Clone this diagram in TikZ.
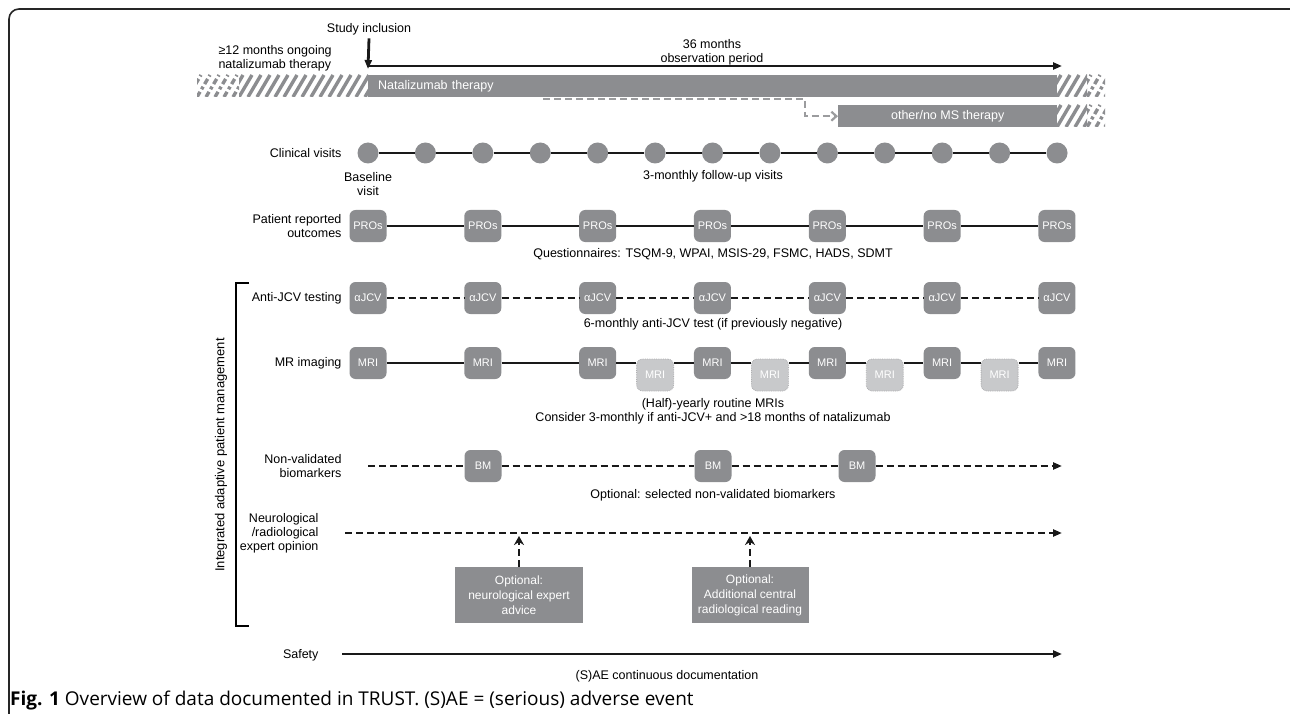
\documentclass[tikz,border=0pt]{standalone}
\usepackage{fontspec}
\setmainfont{Liberation Sans}
\newfontfamily\capfont{Open Sans}
\usetikzlibrary{arrows.meta}
\definecolor{bargray}{RGB}{140,141,144}
\definecolor{optgray}{RGB}{200,201,203}
\definecolor{linkgray}{RGB}{155,156,158}
\tikzset{
  rowlabel/.style={anchor=east, align=right, font=\fontsize{12.5}{15}\selectfont},
  note/.style={align=center, font=\fontsize{12.5}{15}\selectfont},
  visit/.style={circle, fill=bargray, minimum size=21pt, inner sep=0pt},
  tag/.style={fill=bargray, rounded corners=6pt, text=white, minimum width=37pt, minimum height=32pt, inner sep=0pt, font=\fontsize{11}{13}\selectfont},
  tagopt/.style={tag, fill=optgray, draw=bargray!70, densely dotted, line width=0.8pt},
  bar/.style={fill=bargray, text=white, minimum height=22pt, inner ysep=0pt, font=\fontsize{12.5}{14}\selectfont},
  optbox/.style={fill=bargray, text=white, align=center, minimum height=56pt, inner sep=2pt, font=\fontsize{12}{15}\selectfont},
  track/.style={line width=2.8pt, black!90},
  dtrack/.style={track, dash pattern=on 7pt off 4pt},
  stripe/.style={line width=3.4pt, bargray},
  broken/.style={dash pattern=on 6pt off 3pt on 3pt off 3pt},
}
\newcommand\hatchbar[5]{%
  \begin{scope}
    \clip (#1,#3) rectangle (#2,#4);
    \foreach \k in {-2,...,22} \draw[stripe,#5] ({#1+9*\k},#4) -- ++(13,-22);
  \end{scope}}
\begin{document}
\begin{tikzpicture}[x=1pt, y=-1pt, >={Triangle[length=9pt,width=7pt]}]
  \useasboundingbox (0,0) rectangle (1290,714);
  \draw[line width=1.6pt, black!85, rounded corners=10pt] (9,714) -- (9,9) -- (1290,9);
  % observation period
  \node[note] (study) at (369,29) {Study inclusion};
  \coordinate (start) at (368,69);
  \coordinate (obsend) at (1062,66);
  \draw[track,->] (study.south) -- (start);
  \draw[track,->] (368,66) -- (obsend);
  \node[note] (obs) at (712,52) {36 months\\[-1pt]observation period};
  \node[note, align=left, anchor=west] (ongoing) at (215,58) {≥12 months ongoing\\[-1pt]natalizumab therapy};
  % therapy bars
  \hatchbar{239}{368}{75}{97}{}
  \hatchbar{197}{239}{75}{97}{broken}
  \hatchbar{1057}{1087}{75}{97}{}
  \hatchbar{1087}{1105}{75}{97}{broken}
  \hatchbar{1057}{1087}{105}{127}{}
  \hatchbar{1087}{1105}{105}{127}{broken}
  \node[bar, anchor=north west, text width=669pt, inner xsep=10pt] (nat) at (368,75) {Natalizumab therapy};
  \node[bar, anchor=north west, minimum width=219pt, inner xsep=0pt] (other) at (838,105) {other/no MS therapy};
  \coordinate (switch) at (543,99);
  \draw[line width=2.2pt, linkgray, dash pattern=on 7pt off 4pt, -{Straight Barb[length=5pt,width=9pt]}] (switch) -- ++(262,0) |- (other.west);
  % clinical visits
  \node[rowlabel] (clin) at (345,153) {Clinical visits};
  \foreach \k in {0,...,12} \node[visit] (v\k) at ({368+57.42*\k},153) {};
  \foreach \k [count=\n from 1] in {0,...,11} \draw[track] (v\k) -- (v\n);
  \node[note] (base) at (368,184) {Baseline\\[-1pt]visit};
  \node[note] (fu) at (713,176) {3-monthly follow-up visits};
  % PROs
  \node[rowlabel] (pro) at (345,226) {Patient reported\\[-1pt]outcomes};
  \foreach \k in {0,...,6} \node[tag] (p\k) at ({368+114.83*\k},226) {PROs};
  \foreach \k [count=\n from 1] in {0,...,5} \draw[track] (p\k) -- (p\n);
  \node[note] (quest) at (713,254) {Questionnaires: TSQM-9, WPAI, MSIS-29, FSMC, HADS, SDMT};
  % anti-JCV
  \node[rowlabel] (jcv) at (345,298) {Anti-JCV testing};
  \foreach \k in {0,...,6} \node[tag] (j\k) at ({368+114.83*\k},298) {αJCV};
  \foreach \k [count=\n from 1] in {0,...,5} \draw[dtrack] (j\k) -- (j\n);
  \node[note] (jcvnote) at (713,324) {6-monthly anti-JCV test (if previously negative)};
  % MRI
  \node[rowlabel] (mri) at (345,363) {MR imaging};
  \foreach \k in {0,...,6} \node[tag] (m\k) at ({368+114.83*\k},363) {MRI};
  \foreach \k in {5,7,9,11} \node[tagopt] (l\k) at ({368+57.42*\k},375) {MRI};
  \foreach \a/\b in {m0/m1, m1/m2, m2/l5, l5/m3, m3/l7, l7/m4, m4/l9, l9/m5, m5/l11, l11/m6}
    \draw[track] (\a.east |- m0) -- (\b.west |- m0);
  \node[note] (mrinote) at (713,411) {(Half)-yearly routine MRIs\\[-1pt]Consider 3-monthly if anti-JCV+ and >18 months of natalizumab};
  % biomarkers
  \node[rowlabel] (bio) at (345,466) {Non-validated\\[-1pt]biomarkers};
  \node[tag] (b1) at (483,466) {BM};
  \node[tag] (b2) at (713,466) {BM};
  \node[tag] (b3) at (857,466) {BM};
  \coordinate (bm0) at (368,466);
  \coordinate (bm1) at (1062,466);
  \draw[dtrack] (bm0) -- (b1) (b1) -- (b2) (b2) -- (b3);
  \draw[dtrack,->] (b3) -- (bm1);
  \node[note] (bionote) at (713,495) {Optional: selected non-validated biomarkers};
  % expert opinion
  \node[rowlabel] (expert) at (322,533) {Neurological\\[-1pt]/radiological\\[-1pt]expert opinion};
  \coordinate (ex0) at (345,533);
  \coordinate (ex1) at (1062,533);
  \draw[dtrack,->] (ex0) -- (ex1);
  \node[optbox, minimum width=128pt] (o1) at (519,595) {Optional:\\neurological expert\\advice};
  \node[optbox, minimum width=117pt] (o2) at (750,595) {Optional:\\Additional central\\radiological reading};
  \draw[dtrack, -{Stealth[length=9pt,width=10pt]}] (o1.north) -- (o1.north |- 0,536);
  \draw[dtrack, -{Stealth[length=9pt,width=10pt]}] (o2.north) -- (o2.north |- 0,536);
  % bracket
  \draw[line width=1.5pt] (249,283) -- (236,283) -- (236,626) -- (249,626);
  \node[note, rotate=90, font=\fontsize{13}{15}\selectfont] (iapm) at (221,455) {Integrated adaptive patient management};
  % safety
  \node[rowlabel] (safety) at (322,655) {Safety};
  \coordinate (sa0) at (342,654);
  \coordinate (sa1) at (1062,654);
  \draw[track,->] (sa0) -- (sa1);
  \node[note] (sae) at (667,676) {(S)AE continuous documentation};
  % caption
  \node[anchor=west, inner sep=0pt, font=\capfont\fontsize{19}{22}\selectfont] (cap) at (10,701) {\textbf{Fig. 1} Overview of data documented in TRUST. (S)AE = (serious) adverse event};
\end{tikzpicture}
\end{document}
